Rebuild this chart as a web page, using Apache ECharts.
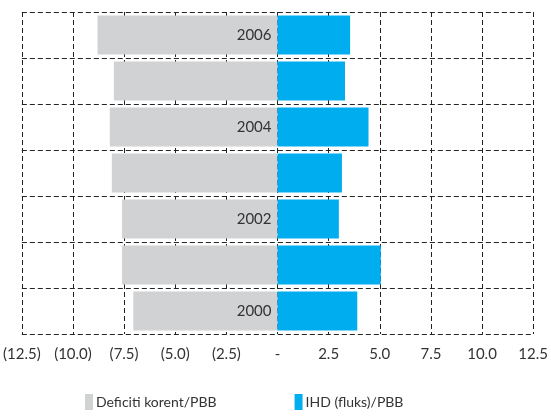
<!DOCTYPE html>
<html>
<head>
<meta charset="utf-8">
<script src="https://cdn.jsdelivr.net/npm/echarts@6/dist/echarts.min.js"></script>
<style>
  html, body { margin: 0; padding: 0; background: #fff; }
  #chart { width: 551px; height: 417px; }
</style>
</head>
<body>
<div id="chart"></div>
<script>
// data
const years = ['2000', '2001', '2002', '2003', '2004', '2005', '2006']
const deficit = [-7.05, -7.6, -7.6, -8.1, -8.2, -8.0, -8.8]
const fdi = [3.9, 5.05, 3.0, 3.15, 4.45, 3.3, 3.55]
const labelYears = ['2000', '2002', '2004', '2006']

const dash = { color: '#222', width: 1, type: [5, 3] }

let myChart = echarts.init(document.getElementById('chart'))
let option = {
  animation: false,
  textStyle: { fontFamily: 'Lato, sans-serif' },
  grid: { left: 20, right: 12, top: 12, bottom: 83, containLabel: false },
  xAxis: {
    type: 'value',
    min: -12.5,
    max: 12.5,
    interval: 2.5,
    axisLine: { show: false },
    axisTick: { show: false },
    splitLine: { show: true, lineStyle: dash },
    axisLabel: {
      color: '#333',
      fontSize: 15,
      margin: 13,
      formatter: function (v) {
        if (Math.abs(v) < 1e-9) return '-'
        if (v < 0) return '(' + Math.abs(v).toFixed(1) + ')'
        return v.toFixed(1)
      }
    }
  },
  yAxis: {
    type: 'category',
    data: years,
    axisLine: { show: false },
    axisTick: { show: false },
    axisLabel: { show: false },
    splitLine: { show: true, lineStyle: dash }
  },
  legend: {
    bottom: 2,
    left: 80,
    itemGap: 78,
    itemWidth: 8,
    itemHeight: 16,
    icon: 'rect',
    textStyle: { color: '#333', fontSize: 14, padding: [0, 0, 0, -2] },
    data: ['Deficiti korent/PBB', 'IHD (fluks)/PBB']
  },
  series: [
    {
      name: 'Deficiti korent/PBB',
      type: 'bar',
      data: deficit,
      barWidth: '85%',
      barGap: '-100%',
      itemStyle: { color: '#d1d2d4' },
      label: {
        show: true,
        position: 'insideRight',
        distance: 6,
        color: '#333',
        fontSize: 15,
        formatter: function (p) {
          return labelYears.indexOf(p.name) >= 0 ? p.name : ''
        }
      }
    },
    {
      name: 'IHD (fluks)/PBB',
      type: 'bar',
      data: fdi,
      barWidth: '85%',
      itemStyle: { color: '#00aeef' }
    }
  ]
}
myChart.setOption(option)
</script>
</body>
</html>
